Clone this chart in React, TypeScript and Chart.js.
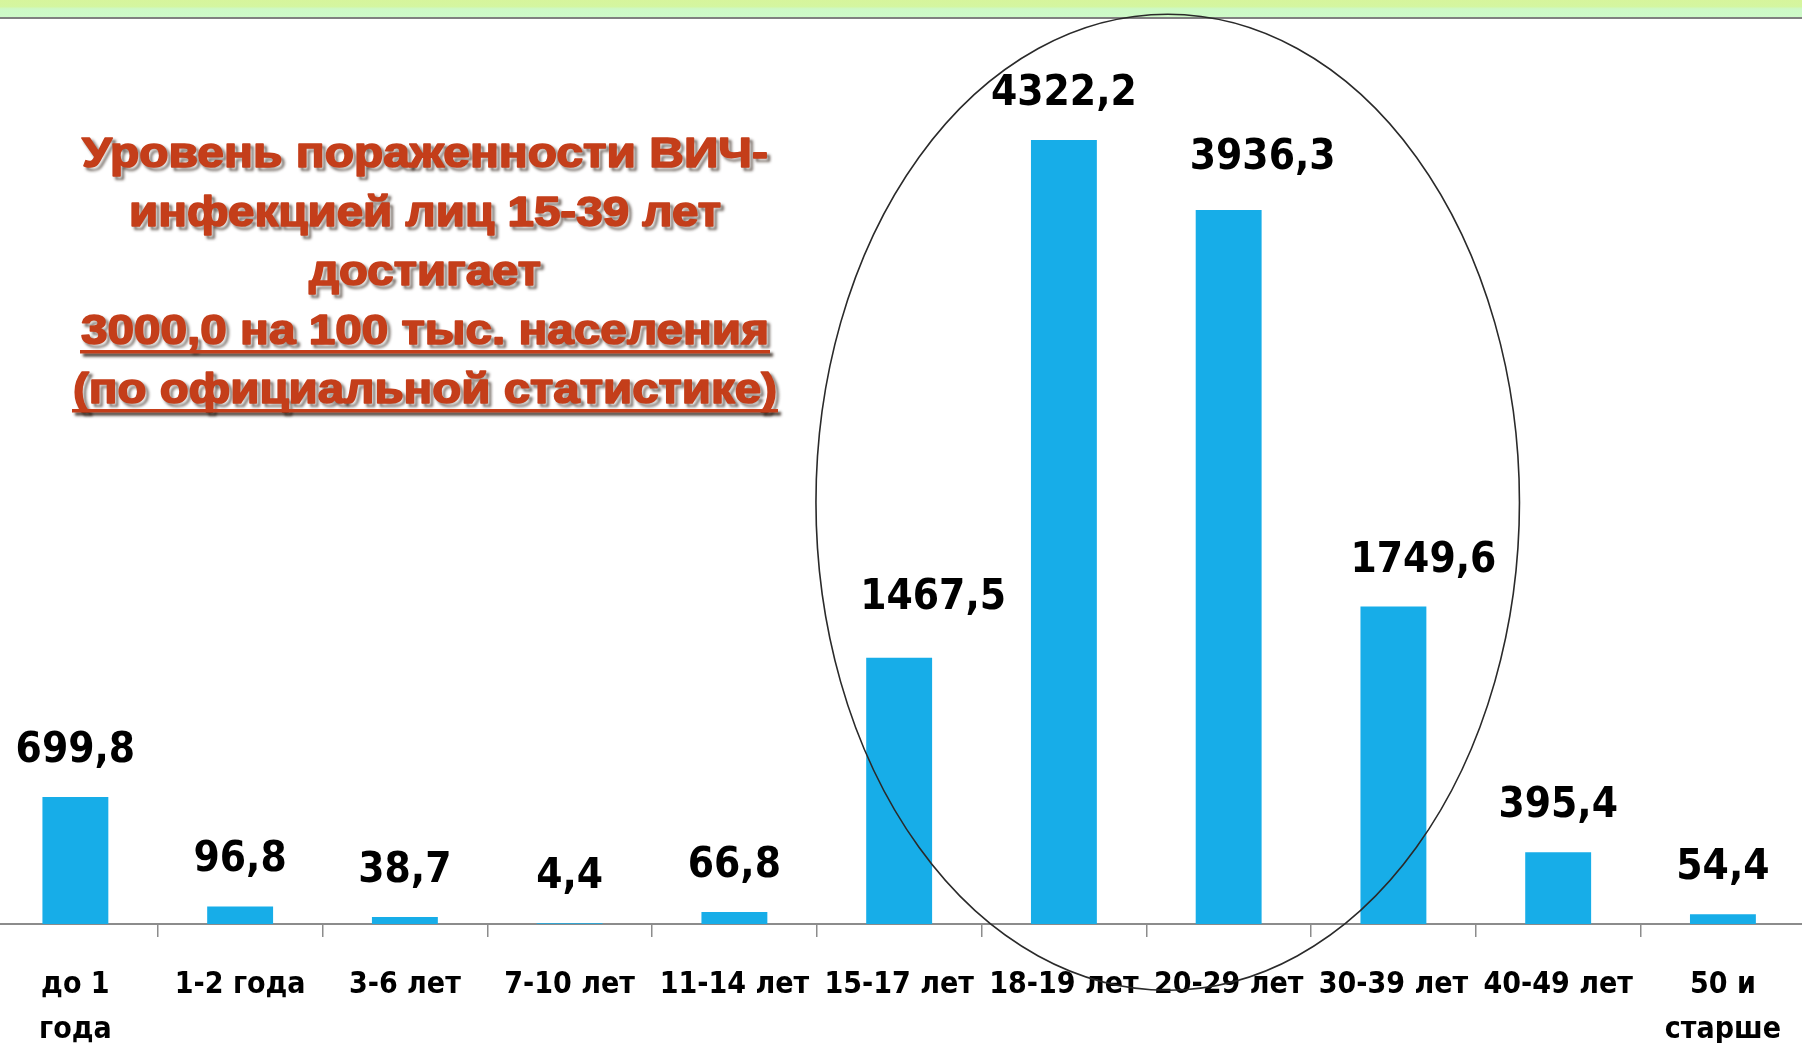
import React, { useEffect, useRef } from 'react';
import { Chart, registerables } from 'chart.js';

Chart.register(...registerables);

// ---- data ----
const categories: (string | string[])[] = [
  ['до 1', 'года'],
  '1-2 года',
  '3-6 лет',
  '7-10 лет',
  '11-14 лет',
  '15-17 лет',
  '18-19 лет',
  '20-29 лет',
  '30-39 лет',
  '40-49 лет',
  ['50 и', 'старше'],
];
const values = [699.8, 96.8, 38.7, 4.4, 66.8, 1467.5, 4322.2, 3936.3, 1749.6, 395.4, 54.4];
const yMin = 0;
const yMax = 5000;

const titleLines = [
  'Уровень пораженности ВИЧ-',
  'инфекцией лиц 15-39 лет',
  'достигает',
  '3000,0 на 100 тыс. населения',
  '(по официальной статистике)',
];
const titleUnderlined = [false, false, false, true, true];

// ---- layout / style ----
const W = 1802;
const H = 1043;
const CANVAS_LEFT = -7;
const CANVAS_W = 1814;
const PLOT_TOP = 17;
const AXIS_H = 119;
const BAR_COLOR = '#17ade8';
const AXIS_COLOR = '#8c8c8c';
const TITLE_COLOR = '#c43e1a';
const TITLE_CX = 425;
const TITLE_BASE0 = 167;
const TITLE_STEP = 59;
const TITLE_WIDTHS = [688, 594, 234, 690, 706];
const LABEL_FONT = "'DejaVu Sans Condensed', 'DejaVu Sans', sans-serif";
// manual nudges of individual value labels (pixels), as placed in the original
const LABEL_NUDGE_X = [0, 0, 0, 0, 0, 34, 0, 34, 30, 0, 0];
const LABEL_NUDGE_Y = [0, 0, 0, 0, 0, -14, 0, -6, 0, 0, 0];
const LABEL_GAP = 46;
// highlight ellipse in data coordinates (category index, value)
const ELLIPSE_CX = 6.63;
const ELLIPSE_RX = 2.135;
const ELLIPSE_TOP = 5015;
const ELLIPSE_BOTTOM = -365;

const overlayPlugin = {
  id: 'overlay',
  afterDraw(chart: any) {
    const ctx = chart.ctx as CanvasRenderingContext2D;
    const xs = chart.scales.x;
    const ys = chart.scales.y;

    // value labels
    const meta = chart.getDatasetMeta(0);
    ctx.save();
    ctx.fillStyle = '#000';
    ctx.font = `bold 42px ${LABEL_FONT}`;
    ctx.textAlign = 'center';
    ctx.textBaseline = 'middle';
    meta.data.forEach((bar: any, i: number) => {
      const txt = values[i].toFixed(1).replace('.', ',');
      ctx.fillText(txt, bar.x + LABEL_NUDGE_X[i], bar.y - LABEL_GAP + LABEL_NUDGE_Y[i]);
    });
    ctx.restore();

    // ellipse
    const cx = xs.getPixelForValue(ELLIPSE_CX);
    const rx = xs.getPixelForValue(ELLIPSE_CX + ELLIPSE_RX) - cx;
    const top = ys.getPixelForValue(ELLIPSE_TOP);
    const bottom = ys.getPixelForValue(ELLIPSE_BOTTOM);
    ctx.save();
    ctx.beginPath();
    ctx.ellipse(cx, (top + bottom) / 2, rx, (bottom - top) / 2, 0, 0, Math.PI * 2);
    ctx.strokeStyle = '#2a2a2a';
    ctx.lineWidth = 1.6;
    ctx.stroke();
    ctx.restore();

    // title text
    ctx.save();
    ctx.font = "bold 42px 'Liberation Sans', Arial, sans-serif";
    ctx.textAlign = 'left';
    ctx.textBaseline = 'alphabetic';
    titleLines.forEach((line, i) => {
      const w = ctx.measureText(line).width;
      const sx = (TITLE_WIDTHS[i] - 2) / w;
      const left = TITLE_CX - CANVAS_LEFT - TITLE_WIDTHS[i] / 2;
      const base = TITLE_BASE0 + TITLE_STEP * i;
      ctx.save();
      ctx.shadowColor = 'rgba(30,15,5,0.85)';
      ctx.shadowOffsetX = 3;
      ctx.shadowOffsetY = 3;
      ctx.shadowBlur = 3;
      ctx.fillStyle = TITLE_COLOR;
      ctx.strokeStyle = TITLE_COLOR;
      ctx.lineWidth = 1.6;
      ctx.lineJoin = 'round';
      ctx.translate(left + 1, base);
      ctx.scale(sx, 1);
      ctx.strokeText(line, 0, 0);
      ctx.shadowColor = 'transparent';
      ctx.fillText(line, 0, 0);
      ctx.restore();
      if (titleUnderlined[i]) {
        ctx.save();
        ctx.shadowColor = 'rgba(30,15,5,0.85)';
        ctx.shadowOffsetX = 3;
        ctx.shadowOffsetY = 3;
        ctx.shadowBlur = 3;
        ctx.fillStyle = TITLE_COLOR;
        ctx.fillRect(left, base + 6, TITLE_WIDTHS[i], 3.5);
        ctx.restore();
      }
    });
    ctx.restore();
  },
};

export default function App() {
  const ref = useRef<HTMLCanvasElement | null>(null);

  useEffect(() => {
    if (!ref.current) return;
    const chart = new Chart(ref.current, {
      type: 'bar',
      data: {
        labels: categories as any,
        datasets: [
          {
            data: values,
            backgroundColor: BAR_COLOR,
            borderWidth: 0,
            barPercentage: 0.4,
            categoryPercentage: 1.0,
          },
        ],
      },
      options: {
        animation: false,
        responsive: false,
        devicePixelRatio: 1,
        layout: { padding: { top: PLOT_TOP, left: 0, right: 0, bottom: 0 } },
        plugins: {
          legend: { display: false },
          tooltip: { enabled: false },
          title: { display: false },
        },
        scales: {
          x: {
            offset: true,
            border: { display: true, color: AXIS_COLOR, width: 2 },
            grid: {
              display: true,
              offset: true,
              drawOnChartArea: false,
              drawTicks: true,
              tickLength: 13,
              color: AXIS_COLOR,
              lineWidth: 1.5,
            },
            ticks: {
              autoSkip: false,
              maxRotation: 0,
              minRotation: 0,
              padding: 26,
              color: '#000',
              font: { family: LABEL_FONT, size: 30, weight: 'bold', lineHeight: 1.5 },
            },
            afterFit(scale: any) {
              scale.height = AXIS_H;
            },
          },
          y: {
            display: false,
            min: yMin,
            max: yMax,
          },
        },
      },
      plugins: [overlayPlugin],
    });
    return () => chart.destroy();
  }, []);

  return (
    <div
      style={{
        position: 'fixed',
        left: 0,
        top: 0,
        width: W,
        height: H,
        overflow: 'hidden',
        background: '#fff',
      }}
    >
      <div
        style={{
          position: 'absolute',
          left: 0,
          top: 0,
          width: W,
          height: 17,
          background:
            'linear-gradient(180deg, #d6f59c 0%, #d4f6a0 38%, #cdf9c6 52%, #cefac8 100%)',
          borderBottom: '2px solid #808080',
        }}
      />
      <canvas
        ref={ref}
        width={CANVAS_W}
        height={H}
        style={{ position: 'absolute', left: CANVAS_LEFT, top: 0, width: CANVAS_W, height: H }}
      />
    </div>
  );
}
